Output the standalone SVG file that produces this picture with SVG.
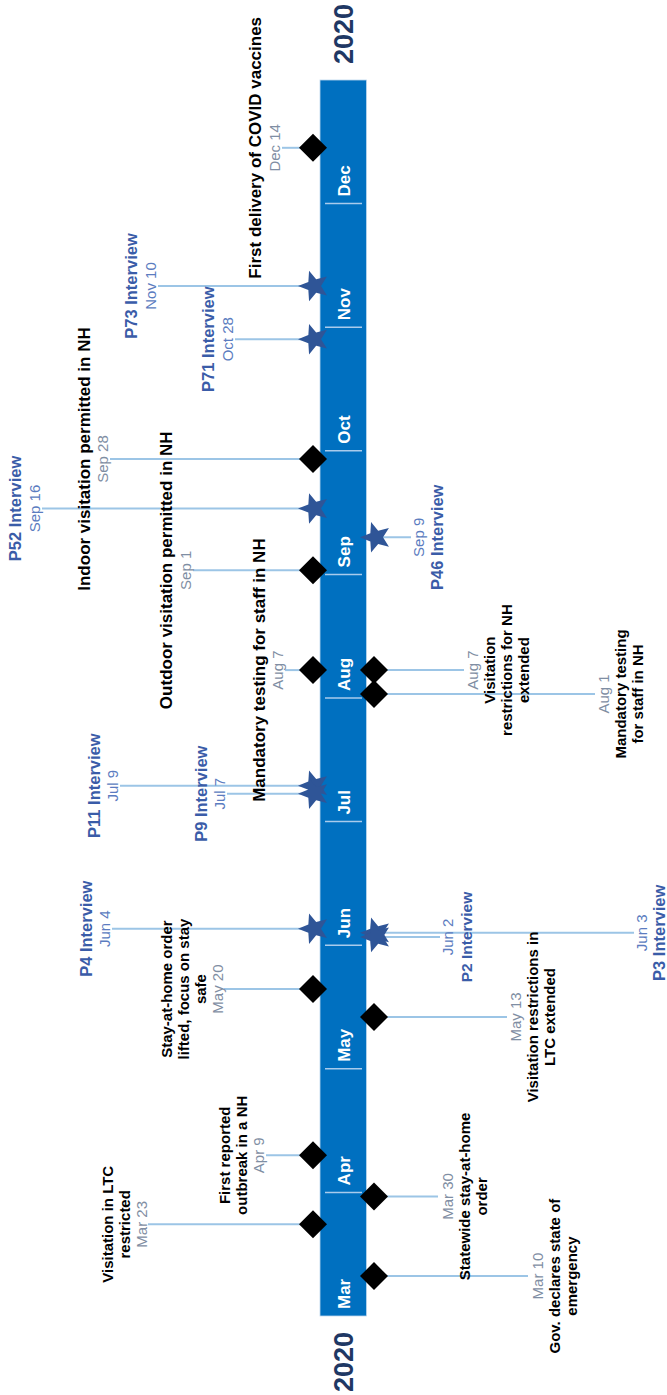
<svg xmlns="http://www.w3.org/2000/svg" xmlns:xlink="http://www.w3.org/1999/xlink" width="667" height="1395" viewBox="0 0 667 1395">
<style>
text{font-family:"Liberation Sans",Arial,sans-serif;text-anchor:middle}
.t15{font-size:15px;font-weight:bold;fill:#000}
.t17{font-size:17px;font-weight:bold;fill:#000}
.d{font-size:15px;fill:#7f8ea3}
.di{font-size:15px;fill:#5b7cc0}
.iv{font-size:16.5px;font-weight:bold;fill:#3a5ca8}
.mo{font-size:17px;font-weight:bold;fill:#fff;text-anchor:start}
.yr{font-size:27px;font-weight:bold;fill:#1f3864}
.cn{stroke:#9cc5e6;stroke-width:2;fill:none}
.sep{stroke:#a9cbec;stroke-width:1.5}
</style>
<defs>
<path id="star" d="M-16,0 L-5.66,-4.11 L-4.94,-15.22 L2.16,-6.66 L12.94,-9.4 L7,0 L12.94,9.4 L2.16,6.66 L-4.94,15.22 L-5.66,4.11 Z" fill="#2f5597"/>
<path id="dia" d="M-14,0 L0,-14 L14,0 L0,14 Z" fill="#000"/>
</defs>
<g id="timeline">
<rect x="320" y="80" width="46.5" height="1236" fill="#0070c0" stroke="#bdd7ee" stroke-width="0.8"/>
<g id="separators">
<line class="sep" x1="325" y1="1192.4" x2="362" y2="1192.4"/>
<line class="sep" x1="325" y1="1068.8" x2="362" y2="1068.8"/>
<line class="sep" x1="325" y1="945.2" x2="362" y2="945.2"/>
<line class="sep" x1="325" y1="821.6" x2="362" y2="821.6"/>
<line class="sep" x1="325" y1="698" x2="362" y2="698"/>
<line class="sep" x1="325" y1="574.4" x2="362" y2="574.4"/>
<line class="sep" x1="325" y1="450.8" x2="362" y2="450.8"/>
<line class="sep" x1="325" y1="327.2" x2="362" y2="327.2"/>
<line class="sep" x1="325" y1="203.6" x2="362" y2="203.6"/>
</g>
<g id="months">
<text class="mo" transform="translate(350,1309) rotate(-90)">Mar</text>
<text class="mo" transform="translate(350,1185.4) rotate(-90)">Apr</text>
<text class="mo" transform="translate(350,1061.8) rotate(-90)">May</text>
<text class="mo" transform="translate(350,938.2) rotate(-90)">Jun</text>
<text class="mo" transform="translate(350,814.6) rotate(-90)">Jul</text>
<text class="mo" transform="translate(350,691) rotate(-90)">Aug</text>
<text class="mo" transform="translate(350,567.4) rotate(-90)">Sep</text>
<text class="mo" transform="translate(350,443.8) rotate(-90)">Oct</text>
<text class="mo" transform="translate(350,320.2) rotate(-90)">Nov</text>
<text class="mo" transform="translate(350,196.6) rotate(-90)">Dec</text>
</g>
<text class="yr" transform="translate(353,34) rotate(-90)">2020</text>
<text class="yr" transform="translate(353,1362) rotate(-90)">2020</text>
</g>
<g id="connectors">
<line class="cn" x1="148" y1="1224.3" x2="313" y2="1224.3"/>
<line class="cn" x1="266" y1="1155.3" x2="313" y2="1155.3"/>
<line class="cn" x1="224" y1="989.1" x2="313" y2="989.1"/>
<line class="cn" x1="112" y1="928.7" x2="313" y2="928.7"/>
<line class="cn" x1="120" y1="785.7" x2="313" y2="785.7"/>
<line class="cn" x1="227" y1="793.7" x2="313" y2="793.7"/>
<line class="cn" x1="285" y1="670.1" x2="313" y2="670.1"/>
<line class="cn" x1="193" y1="570.3" x2="313" y2="570.3"/>
<line class="cn" x1="42" y1="508.5" x2="313" y2="508.5"/>
<line class="cn" x1="110" y1="459" x2="313" y2="459"/>
<line class="cn" x1="235" y1="339.2" x2="313" y2="339.2"/>
<line class="cn" x1="158" y1="286" x2="313" y2="286"/>
<line class="cn" x1="282" y1="147.8" x2="313" y2="147.8"/>
<line class="cn" x1="374" y1="1276.1" x2="528" y2="1276.1"/>
<line class="cn" x1="374" y1="1196.4" x2="438" y2="1196.4"/>
<line class="cn" x1="374" y1="1017" x2="507" y2="1017"/>
<line class="cn" x1="374" y1="937" x2="440" y2="937"/>
<line class="cn" x1="374" y1="932.8" x2="634" y2="932.8"/>
<line class="cn" x1="374" y1="670.1" x2="464" y2="670.1"/>
<line class="cn" x1="374" y1="694" x2="595" y2="694"/>
<line class="cn" x1="374" y1="537.3" x2="411" y2="537.3"/>
</g>
<g id="ev-mar23">
<use xlink:href="#dia" x="313" y="1224.3"/>
<text class="t15" transform="translate(113,1224.3) rotate(-90)">Visitation in LTC</text>
<text class="t15" transform="translate(130,1224.3) rotate(-90)">restricted</text>
<text class="d" transform="translate(147,1224.3) rotate(-90)">Mar 23</text>
</g>
<g id="ev-apr9">
<use xlink:href="#dia" x="313" y="1155.3"/>
<text class="t15" transform="translate(230,1155.3) rotate(-90)">First reported</text>
<text class="t15" transform="translate(247,1155.3) rotate(-90)">outbreak in a NH</text>
<text class="d" transform="translate(264,1155.3) rotate(-90)">Apr 9</text>
</g>
<g id="ev-may20">
<use xlink:href="#dia" x="313" y="989.1"/>
<text class="t15" transform="translate(172,989.1) rotate(-90)">Stay-at-home order</text>
<text class="t15" transform="translate(189,989.1) rotate(-90)">lifted, focus on stay</text>
<text class="t15" transform="translate(206,989.1) rotate(-90)">safe</text>
<text class="d" transform="translate(223,989.1) rotate(-90)">May 20</text>
</g>
<g id="ev-jun4">
<use xlink:href="#star" x="314" y="928.7"/>
<text class="iv" transform="translate(92,928.7) rotate(-90)">P4 Interview</text>
<text class="di" transform="translate(110,928.7) rotate(-90)">Jun 4</text>
</g>
<g id="ev-jul9">
<use xlink:href="#star" x="314" y="785.7"/>
<text class="iv" transform="translate(100,785.7) rotate(-90)">P11 Interview</text>
<text class="di" transform="translate(118,785.7) rotate(-90)">Jul 9</text>
</g>
<g id="ev-jul7">
<use xlink:href="#star" x="314" y="793.7"/>
<text class="iv" transform="translate(207,793.7) rotate(-90)">P9 Interview</text>
<text class="di" transform="translate(225,793.7) rotate(-90)">Jul 7</text>
</g>
<g id="ev-aug7-left">
<use xlink:href="#dia" x="313" y="670.1"/>
<text class="t17" transform="translate(265,670.1) rotate(-90)">Mandatory testing for staff in NH</text>
<text class="d" transform="translate(283,670.1) rotate(-90)">Aug 7</text>
</g>
<g id="ev-sep1">
<use xlink:href="#dia" x="313" y="570.3"/>
<text class="t17" transform="translate(172,570.3) rotate(-90)">Outdoor visitation permitted in NH</text>
<text class="d" transform="translate(191,570.3) rotate(-90)">Sep 1</text>
</g>
<g id="ev-sep16">
<use xlink:href="#star" x="314" y="508.5"/>
<text class="iv" transform="translate(21,508.5) rotate(-90)">P52 Interview</text>
<text class="di" transform="translate(40,508.5) rotate(-90)">Sep 16</text>
</g>
<g id="ev-sep28">
<use xlink:href="#dia" x="313" y="459"/>
<text class="t17" transform="translate(90,459) rotate(-90)">Indoor visitation permitted in NH</text>
<text class="d" transform="translate(108,459) rotate(-90)">Sep 28</text>
</g>
<g id="ev-oct28">
<use xlink:href="#star" x="314" y="339.2"/>
<text class="iv" transform="translate(214,339.2) rotate(-90)">P71 Interview</text>
<text class="di" transform="translate(233,339.2) rotate(-90)">Oct 28</text>
</g>
<g id="ev-nov10">
<use xlink:href="#star" x="314" y="286"/>
<text class="iv" transform="translate(137,286) rotate(-90)">P73 Interview</text>
<text class="di" transform="translate(156,286) rotate(-90)">Nov 10</text>
</g>
<g id="ev-dec14">
<use xlink:href="#dia" x="313" y="147.8"/>
<text class="t17" transform="translate(261,147.8) rotate(-90)">First delivery of COVID vaccines</text>
<text class="d" transform="translate(280,147.8) rotate(-90)">Dec 14</text>
</g>
<g id="ev-mar10">
<use xlink:href="#dia" x="374" y="1276.1"/>
<text class="d" transform="translate(543,1276.1) rotate(-90)">Mar 10</text>
<text class="t15" transform="translate(560,1276.1) rotate(-90)">Gov. declares state of</text>
<text class="t15" transform="translate(577,1276.1) rotate(-90)">emergency</text>
</g>
<g id="ev-mar30">
<use xlink:href="#dia" x="374" y="1196.4"/>
<text class="d" transform="translate(453,1196.4) rotate(-90)">Mar 30</text>
<text class="t15" transform="translate(470,1196.4) rotate(-90)">Statewide stay-at-home</text>
<text class="t15" transform="translate(487,1196.4) rotate(-90)">order</text>
</g>
<g id="ev-may13">
<use xlink:href="#dia" x="374" y="1017"/>
<text class="d" transform="translate(521,1017) rotate(-90)">May 13</text>
<text class="t15" transform="translate(538,1017) rotate(-90)">Visitation restrictions in</text>
<text class="t15" transform="translate(555,1017) rotate(-90)">LTC extended</text>
</g>
<g id="ev-jun3">
<use xlink:href="#star" x="376" y="932.8"/>
<text class="di" transform="translate(647,932.8) rotate(-90)">Jun 3</text>
<text class="iv" transform="translate(665,932.8) rotate(-90)">P3 Interview</text>
</g>
<g id="ev-jun2">
<use xlink:href="#star" x="376" y="937"/>
<text class="di" transform="translate(453,937) rotate(-90)">Jun 2</text>
<text class="iv" style="font-size:15.5px" transform="translate(472,937) rotate(-90)">P2 Interview</text>
</g>
<g id="ev-aug7-right">
<use xlink:href="#dia" x="374" y="670.1"/>
<text class="d" transform="translate(478,670.1) rotate(-90)">Aug 7</text>
<text class="t15" transform="translate(495,670.1) rotate(-90)">Visitation</text>
<text class="t15" transform="translate(512,670.1) rotate(-90)">restrictions for NH</text>
<text class="t15" transform="translate(529,670.1) rotate(-90)">extended</text>
</g>
<g id="ev-aug1">
<use xlink:href="#dia" x="374" y="694"/>
<text class="d" transform="translate(609,694) rotate(-90)">Aug 1</text>
<text class="t15" transform="translate(626,694) rotate(-90)">Mandatory testing</text>
<text class="t15" transform="translate(643,694) rotate(-90)">for staff in NH</text>
</g>
<g id="ev-sep9">
<use xlink:href="#star" x="376" y="537.3"/>
<text class="di" transform="translate(424,537.3) rotate(-90)">Sep 9</text>
<text class="iv" transform="translate(443,537.3) rotate(-90)">P46 Interview</text>
</g>
</svg>
